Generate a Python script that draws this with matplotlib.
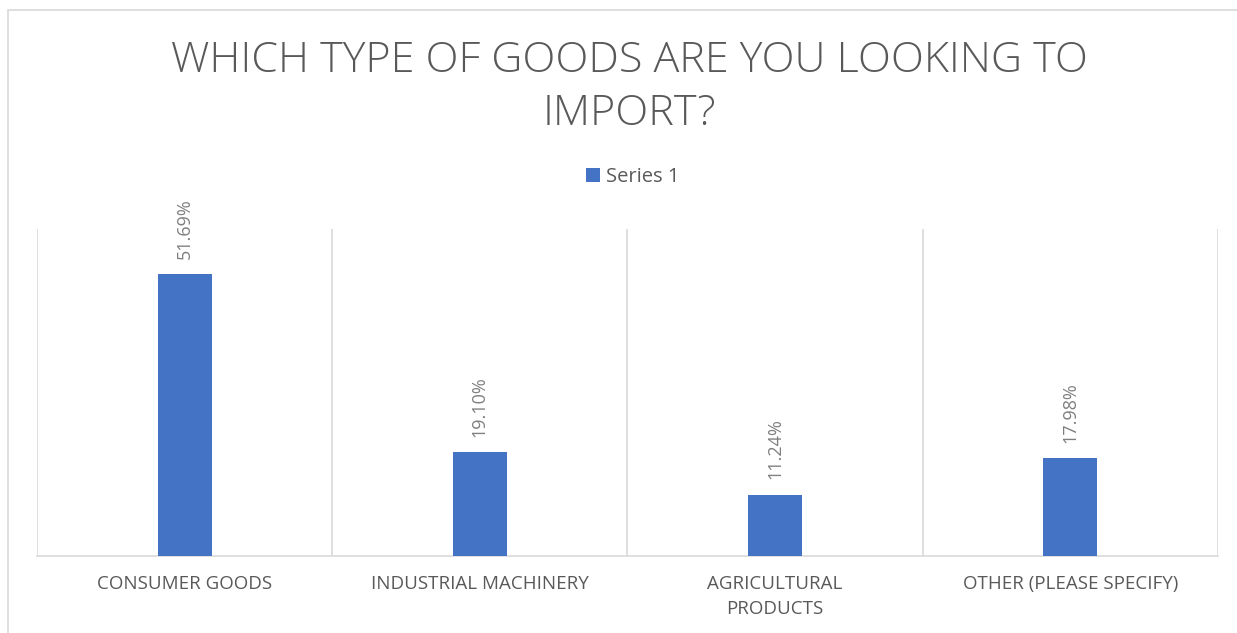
import matplotlib.pyplot as plt
from matplotlib.patches import Rectangle

categorias = ["CONSUMER GOODS", "INDUSTRIAL MACHINERY", "AGRICULTURAL\nPRODUCTS", "OTHER (PLEASE SPECIFY)"]
valores = [51.69, 19.10, 11.24, 17.98]
etiquetas = ["51.69%", "19.10%", "11.24%", "17.98%"]

azul = "#4472C4"
gris = "#595959"
linea = "#d9d9d9"

fig = plt.figure(figsize=(12.37, 6.33), dpi=100)
ax = fig.add_axes([37 / 1237, 77 / 633, 1181 / 1237, 327 / 633])

x = list(range(len(categorias)))
barras = ax.bar(x, valores, width=0.183, color=azul, label="Series 1", zorder=3)

for xi, v, txt in zip(x, valores, etiquetas):
    ax.annotate(txt, (xi, v), xytext=(0, 11), textcoords="offset points",
                rotation=90, ha="center", va="bottom", fontsize=13,
                color="#7f7f7f", family="Open Sans")

ax.set_xlim(-0.5, 3.5)
ax.set_ylim(0, 60)
for sep in [-0.5, 0.5, 1.5, 2.5, 3.5]:
    ax.axvline(sep, color=linea, linewidth=1.2, zorder=1)

ax.set_yticks([])
ax.set_xticks(x)
ax.set_xticklabels(categorias, fontsize=13.5, color=gris, family="Open Sans", linespacing=1.45)
ax.tick_params(axis="x", length=0, pad=14)
for lado in ["top", "left", "right"]:
    ax.spines[lado].set_visible(False)
ax.spines["bottom"].set_color(linea)
ax.spines["bottom"].set_linewidth(1.2)

fig.text(629 / 1237, 1 - 40 / 633, "WHICH TYPE OF GOODS ARE YOU LOOKING TO\nIMPORT?",
         ha="center", va="top", fontsize=31, color=gris, family="Open Sans",
         weight="light", linespacing=1.3)

fig.legend(handles=[barras], labels=["Series 1"], loc="center", bbox_to_anchor=(633 / 1237, 1 - 177 / 633),
           frameon=False, handlelength=0.7, handleheight=0.7,
           handletextpad=0.3, labelcolor=gris, prop={"family": "Open Sans", "size": 14.5})

fig.add_artist(Rectangle((8 / 1237, -0.1), 1.2, (633 - 10) / 633 + 0.1, transform=fig.transFigure,
                         fill=False, edgecolor=linea, linewidth=1.2))

plt.savefig("out.png", dpi=100)
